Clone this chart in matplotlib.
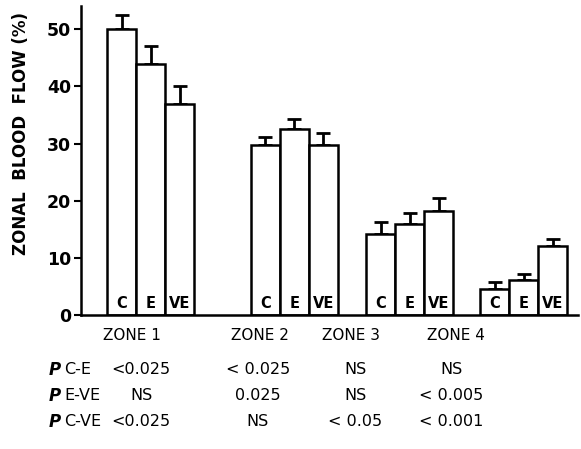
import numpy as np
import matplotlib
matplotlib.use("Agg")
import matplotlib.pyplot as plt

# zonal blood flow (%) per zone, conditions C / E / VE
zones = ["ZONE 1", "ZONE 2", "ZONE 3", "ZONE 4"]
conditions = ["C", "E", "VE"]
flow = np.array([
    [50.0, 44.0, 36.9],
    [29.7, 32.5, 29.7],
    [14.2, 16.0, 18.2],
    [4.6, 6.1, 12.0],
])
# upper error (SE) above each bar
err = np.array([
    [2.5, 3.0, 3.2],
    [1.5, 1.8, 2.1],
    [2.1, 1.8, 2.2],
    [1.1, 1.1, 1.3],
])
yticks = [0, 10, 20, 30, 40, 50]

comparisons = ["C-E", "E-VE", "C-VE"]
pvals = [
    ["<0.025", "< 0.025", "NS", "NS"],
    ["NS", "0.025", "NS", "< 0.005"],
    ["<0.025", "NS", "< 0.05", "< 0.001"],
]

W, H = 581, 449
fig = plt.figure(figsize=(W / 100, H / 100), dpi=100)
ax = fig.add_axes([81 / W, (H - 315) / H, (578 - 81) / W, 308.6 / H])

group_left = [0.9, 5.86, 9.83, 13.76]
label_x = [1.76, 6.17, 9.31, 12.93]

for g in range(len(zones)):
    x = group_left[g] + np.arange(3) + 0.5
    ax.bar(x, flow[g], width=1.0, color="white", edgecolor="black",
           linewidth=1.8, zorder=2)
    ax.errorbar(x, flow[g], yerr=[np.zeros(3), err[g]], fmt="none",
                ecolor="black", elinewidth=2, capsize=5, capthick=2,
                zorder=1, clip_on=False)
    for xi, c in zip(x, conditions):
        ax.text(xi, 0.7, c, ha="center", va="bottom", fontsize=10.5,
                fontweight="semibold")

ax.set_xlim(0, (578 - 81) / 29)
ax.set_ylim(0, 54)
ax.set_yticks(yticks)
ax.set_yticklabels([str(t) for t in yticks], fontsize=12.5, fontweight="bold")
ax.set_xticks(label_x)
ax.set_xticklabels(zones, fontsize=11, fontweight="medium")
ax.tick_params(axis="x", length=0, pad=9)
ax.tick_params(axis="y", length=5, width=1.5, pad=2, direction="out")
for s in ["top", "right"]:
    ax.spines[s].set_visible(False)
for s in ["left", "bottom"]:
    ax.spines[s].set_linewidth(1.8)
fig.text(21 / W, 1 - 133 / H, "ZONAL  BLOOD  FLOW (%)", rotation=90,
         fontsize=12, fontweight="bold", ha="center", va="center")

# significance table under the chart
row_y = [370, 396, 422]
col_x = [141, 258, 355, 451]
for r in range(3):
    fy = 1 - row_y[r] / H
    fig.text(49 / W, fy, "P", fontsize=12, style="italic", fontweight="bold",
             va="center", ha="left")
    fig.text(64 / W, fy, comparisons[r], fontsize=11.5, va="center", ha="left")
    for c in range(4):
        fig.text(col_x[c] / W, fy, pvals[r][c], fontsize=11.5,
                 va="center", ha="center")

fig.savefig("out.png", dpi=100)
